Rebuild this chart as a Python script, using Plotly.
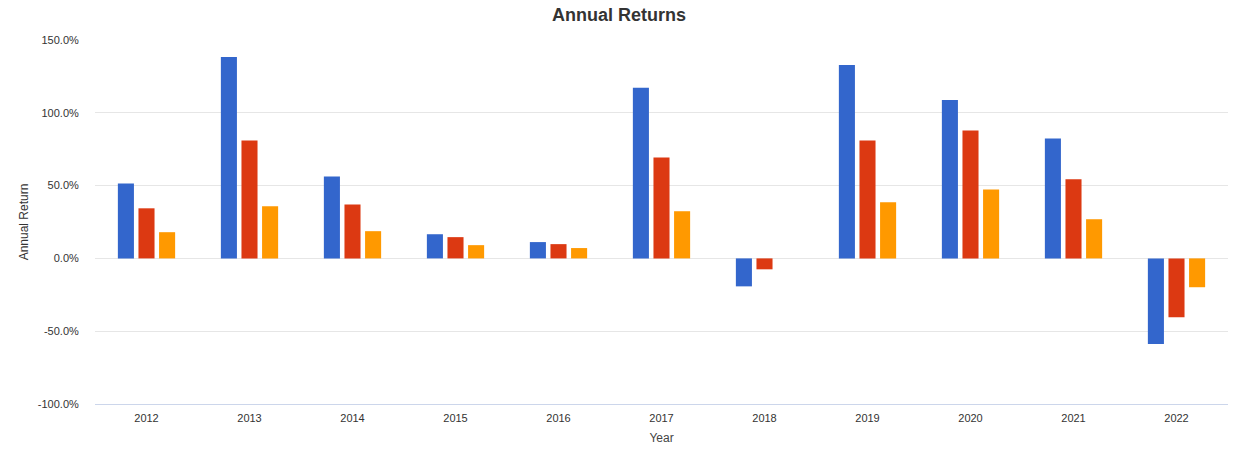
import plotly.graph_objects as go

years = ["2012", "2013", "2014", "2015", "2016", "2017", "2018", "2019", "2020", "2021", "2022"]
series_names = ["Portfolio 1", "Portfolio 2", "Portfolio 3"]
series1 = [51.5, 138.4, 56.3, 16.6, 11.2, 117.2, -19.2, 132.9, 108.8, 82.3, -58.8]
series2 = [34.4, 80.9, 37.1, 14.6, 9.8, 69.3, -7.5, 80.9, 87.8, 54.3, -40.4]
series3 = [18.0, 35.8, 18.7, 9.1, 7.1, 32.4, 0.0, 38.5, 47.4, 26.9, -19.8]
colors = ["#3366cc", "#dc3912", "#ff9900"]

fig = go.Figure()
for name, vals, c in zip(series_names, [series1, series2, series3], colors):
    fig.add_trace(go.Bar(x=years, y=vals, name=name, marker_color=c,
                         marker_line_width=0,
                         hovertemplate="%{x}: %{y:.1f}%<extra>" + name + "</extra>"))

font_family = "Arial, Liberation Sans, sans-serif"
fig.update_layout(
    width=1238, height=455,
    margin=dict(l=95, r=10, t=40, b=51),
    paper_bgcolor="white", plot_bgcolor="white",
    barmode="group", bargap=0.40, bargroupgap=0.22,
    showlegend=False,
    font=dict(family=font_family, color="#333333", size=11),
    title=dict(text="<b>Annual Returns</b>", x=0.5, xanchor="center",
               y=1 - 14.5 / 455, yanchor="middle",
               font=dict(size=18, color="#333333", family=font_family)),
)
fig.update_xaxes(
    type="category",
    showline=True, linecolor="#ccd6eb", linewidth=1,
    showgrid=False, ticks="outside", ticklen=4, tickcolor="rgba(0,0,0,0)",
    tickfont=dict(size=11, color="#333333"),
    title=dict(text="Year", font=dict(size=12, color="#444444"), standoff=10),
)
fig.update_yaxes(
    range=[-100, 150], tickvals=[-100, -50, 0, 50, 100, 150],
    ticktext=["-100.0%", "-50.0%", "0.0%", "50.0%", "100.0%", "150.0%"],
    showgrid=True, gridcolor="#e6e6e6", gridwidth=1,
    zeroline=True, zerolinecolor="#e6e6e6", zerolinewidth=1,
    showline=False, ticks="outside", ticklen=13, tickcolor="rgba(0,0,0,0)",
    tickfont=dict(size=11, color="#333333"),
    title=dict(text="Annual Return", font=dict(size=12, color="#333333"), standoff=6),
)

fig.write_html("out.html",
               config={"displayModeBar": False},
               post_script="document.body.style.margin='0';document.body.style.overflow='hidden';")
